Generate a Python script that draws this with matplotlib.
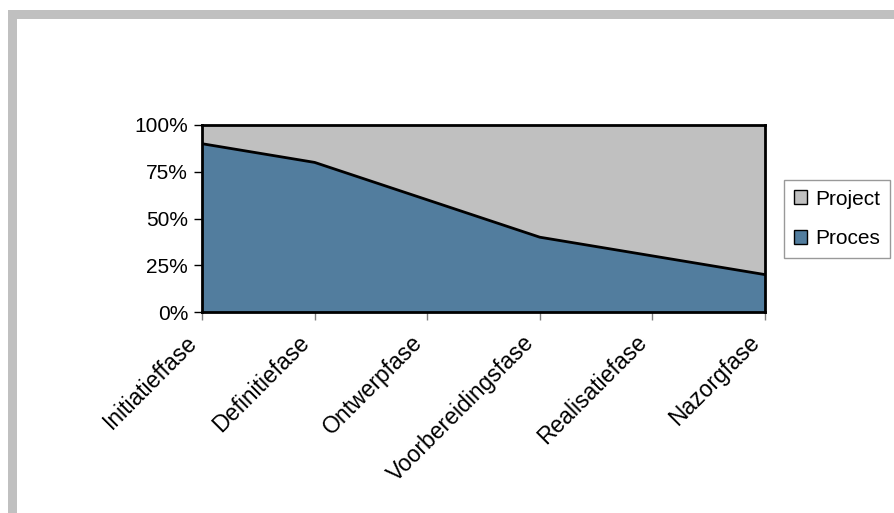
import matplotlib
matplotlib.use("Agg")
import matplotlib.pyplot as plt
from matplotlib.patches import Rectangle, Patch
import matplotlib.transforms as mtransforms
import numpy as np

categories = ["Initiatieffase", "Definitiefase", "Ontwerpfase",
              "Voorbereidingsfase", "Realisatiefase", "Nazorgfase"]
proces = [90, 80, 60, 40, 30, 20]
project = [10, 20, 40, 60, 70, 80]
yticks = [0, 25, 50, 75, 100]
ytick_labels = ["0%", "25%", "50%", "75%", "100%"]

plt.rcParams['font.family'] = ['Liberation Sans', 'DejaVu Sans']
FS = 15

fig = plt.figure(figsize=(8.94, 5.13), dpi=100)
fig.patch.set_facecolor("white")

# grey frame (top and left)
W, H = 894, 513
fig.add_artist(Rectangle((8 / W, (H - 19) / H), 1 - 8 / W, 9 / H,
                         transform=fig.transFigure, color="#c0c0c0", lw=0))
fig.add_artist(Rectangle((8 / W, 0), 9 / W, (H - 10) / H,
                         transform=fig.transFigure, color="#c0c0c0", lw=0))

ax = fig.add_axes([202 / W, (H - 312) / H, (765 - 202) / W, (312 - 125) / H])
x = np.arange(len(categories))
proces_a = np.array(proces)
project_a = np.array(project)
ax.fill_between(x, 0, proces_a, color="#527d9e", lw=0)
ax.fill_between(x, proces_a, proces_a + project_a, color="#c0c0c0", lw=0)
ax.plot(x, proces_a, color="black", lw=2)

ax.set_xlim(0, len(categories) - 1)
ax.set_ylim(0, 100)
ax.set_yticks(yticks)
ax.set_yticklabels(ytick_labels, fontsize=FS)
ax.set_xticks(x)
ax.set_xticklabels([])
offset = mtransforms.ScaledTranslation(-17 / 100, -19 / 100, fig.dpi_scale_trans)
tr = ax.get_xaxis_transform() + offset
for xi, lab in zip(x, categories):
    ax.text(xi, 0, lab, transform=tr, fontsize=16.5, rotation=45, ha="right",
            va="top", rotation_mode="anchor", clip_on=False)
ax.tick_params(axis="y", direction="out", length=6, width=1, color="black", pad=4)
ax.tick_params(axis="x", direction="out", length=6, width=1, color="#808080", pad=10)
for s in ax.spines.values():
    s.set_color("black")
    s.set_linewidth(2)

handles = [Patch(facecolor="#c0c0c0", edgecolor="black", label="Project"),
           Patch(facecolor="#527d9e", edgecolor="black", label="Proces")]
leg = fig.legend(handles=handles, loc="center", bbox_to_anchor=(837 / W, (H - 219) / H),
                 fontsize=FS, frameon=True, fancybox=False, handlelength=0.65,
                 handleheight=0.65, handletextpad=0.4, borderpad=0.45, labelspacing=1.0,
                 borderaxespad=0)
leg.get_frame().set_edgecolor("#808080")
leg.get_frame().set_linewidth(1)

fig.savefig("out.png", dpi=100, facecolor="white")
